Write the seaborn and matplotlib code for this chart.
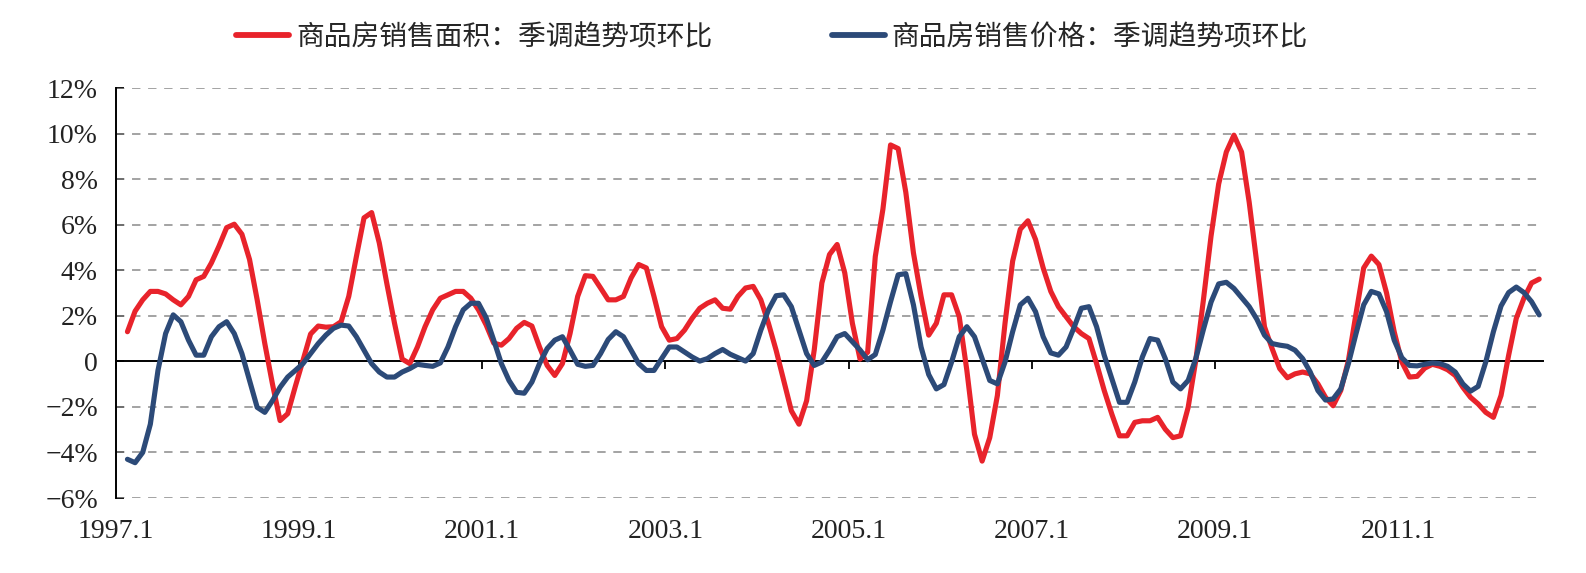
import numpy as np
import pandas as pd
import matplotlib
matplotlib.use("Agg")
import matplotlib.pyplot as plt
import seaborn as sns
from matplotlib.ticker import FuncFormatter

# ---- data (monthly, 1997.2 - 2012.7), % month-on-month ----
start_year, start_month = 1997, 2
area_mom = [
    1.30, 2.20, 2.70, 3.07, 3.07, 2.96, 2.70, 2.48, 2.85, 3.58,
    3.73, 4.32, 5.06, 5.87, 6.02, 5.58, 4.47, 2.70, 0.78, -0.99,
    -2.60, -2.30, -1.10, 0.04, 1.20, 1.55, 1.50, 1.52, 1.74, 2.85,
    4.60, 6.30, 6.53, 5.20, 3.40, 1.67, 0.10, -0.10, 0.63, 1.52,
    2.26, 2.77, 2.92, 3.07, 3.07, 2.77, 2.26, 1.60, 0.80, 0.71,
    1.00, 1.45, 1.71, 1.55, 0.63, -0.18, -0.62, -0.10, 1.22, 2.85,
    3.76, 3.73, 3.22, 2.70, 2.70, 2.85, 3.66, 4.25, 4.10, 2.85,
    1.52, 0.93, 1.00, 1.37, 1.89, 2.33, 2.55, 2.70, 2.33, 2.29,
    2.85, 3.22, 3.29, 2.70, 1.67, 0.49, -0.84, -2.17, -2.76, -1.73,
    0.50, 3.44, 4.69, 5.13, 3.88, 1.67, 0.10, 0.40, 4.60, 6.68,
    9.50, 9.34, 7.42, 4.76, 2.85, 1.15, 1.67, 2.92, 2.92, 1.96,
    -0.40, -3.20, -4.38, -3.35, -1.50, 1.67, 4.40, 5.80, 6.17, 5.35,
    4.10, 3.07, 2.40, 1.96, 1.52, 1.22, 1.00, -0.10, -1.28, -2.32,
    -3.27, -3.27, -2.68, -2.61, -2.61, -2.46, -2.98, -3.35, -3.27, -2.02,
    0.04, 2.70, 5.50, 7.79, 9.19, 9.93, 9.19, 6.98, 4.30, 1.52,
    0.56, -0.32, -0.72, -0.55, -0.47, -0.55, -0.99, -1.58, -1.95, -1.28,
    0.04, 2.10, 4.10, 4.62, 4.25, 3.00, 1.30, -0.03, -0.69, -0.66,
    -0.30, -0.13, -0.22, -0.37, -0.62, -1.14, -1.58, -1.87, -2.24, -2.46,
    -1.50, 0.27, 1.89, 2.77, 3.44, 3.61,
]
price_mom = [
    -4.30, -4.45, -4.00, -2.76, -0.40, 1.22, 2.04, 1.74, 0.93, 0.27,
    0.27, 1.08, 1.52, 1.74, 1.22, 0.34, -0.84, -2.02, -2.24, -1.73,
    -1.14, -0.69, -0.40, -0.10, 0.34, 0.78, 1.15, 1.45, 1.59, 1.55,
    1.08, 0.49, -0.10, -0.47, -0.69, -0.69, -0.47, -0.32, -0.13, -0.18,
    -0.22, -0.07, 0.63, 1.52, 2.26, 2.55, 2.55, 1.92, 0.93, -0.10,
    -0.84, -1.36, -1.40, -0.91, -0.10, 0.56, 0.93, 1.08, 0.49, -0.13,
    -0.22, -0.18, 0.34, 0.96, 1.30, 1.08, 0.49, -0.10, -0.40, -0.40,
    0.12, 0.63, 0.63, 0.41, 0.19, 0.01, 0.12, 0.34, 0.52, 0.31,
    0.16, 0.01, 0.34, 1.37, 2.26, 2.88, 2.92, 2.40, 1.37, 0.34,
    -0.18, -0.03, 0.49, 1.08, 1.22, 0.86, 0.50, 0.07, 0.30, 1.37,
    2.62, 3.80, 3.85, 2.48, 0.63, -0.58, -1.21, -1.02, -0.03, 1.08,
    1.52, 1.08, 0.12, -0.84, -0.99, -0.03, 1.30, 2.48, 2.77, 2.18,
    1.08, 0.37, 0.27, 0.63, 1.45, 2.33, 2.40, 1.52, 0.27, -0.77,
    -1.80, -1.80, -0.91, 0.19, 1.00, 0.93, 0.12, -0.91, -1.21, -0.84,
    0.12, 1.40, 2.60, 3.40, 3.47, 3.20, 2.80, 2.40, 1.85, 1.15,
    0.78, 0.71, 0.66, 0.49, 0.12, -0.47, -1.28, -1.70, -1.65, -1.21,
    -0.10, 1.22, 2.48, 3.07, 2.96, 2.18, 0.93, 0.16, -0.18, -0.20,
    -0.13, -0.07, -0.10, -0.22, -0.47, -0.99, -1.31, -1.10, -0.03, 1.30,
    2.43, 3.02, 3.26, 3.02, 2.62, 2.04,
]
series_names = ["商品房销售面积：季调趋势项环比", "商品房销售价格：季调趋势项环比"]
tick_labels = ["1997.1", "1999.1", "2001.1", "2003.1", "2005.1", "2007.1", "2009.1", "2011.1"]
y_ticks = [-6, -4, -2, 0, 2, 4, 6, 8, 10, 12]
colors = ["#E8232B", "#2C4A78"]

# month index (0 = 1997.1); category centres at idx + 0.5
offset = (start_year - 1997) * 12 + (start_month - 1)
idx = np.arange(len(area_mom)) + offset + 0.5
df = pd.DataFrame({
    "t": np.concatenate([idx, idx]),
    "v": area_mom + price_mom,
    "s": [series_names[0]] * len(area_mom) + [series_names[1]] * len(price_mom),
})

sns.set_theme(style="white")
plt.rcParams["font.family"] = ["Liberation Serif", "Noto Sans CJK SC"]
plt.rcParams["axes.unicode_minus"] = True

fig = plt.figure(figsize=(15.86, 5.73), dpi=100)
ax = fig.add_axes([116 / 1586, 1 - 498 / 573, (1543 - 116) / 1586, (498 - 88) / 573])

sns.lineplot(data=df, x="t", y="v", hue="s", palette=colors, hue_order=series_names,
             linewidth=3.7, ax=ax, legend=False, zorder=3, sort=False)

ax.set_xlim(0, 187)
ax.set_ylim(-6, 12)
ax.set_xlabel("")
ax.set_ylabel("")

# y axis
ax.set_yticks(y_ticks)
ax.yaxis.set_major_formatter(FuncFormatter(
    lambda v, p: "0" if v == 0 else ("\u2212%d%%" % abs(v) if v < 0 else "%d%%" % v)))
ax.tick_params(axis="y", direction="in", length=6, width=1.3, color="black",
               labelsize=20, pad=13, left=True, labelcolor="#222222")
for v in y_ticks:
    if v != 0:
        ax.axhline(v, color="#8a8a8a", lw=1.1, ls=(0, (5.5, 5)), zorder=1)

# x axis: tick marks on the zero line, labels on the bottom
ax.spines["bottom"].set_position(("data", 0))
ax.spines["bottom"].set_color("black")
ax.spines["bottom"].set_linewidth(1.4)
ax.spines["left"].set_color("black")
ax.spines["left"].set_linewidth(1.4)
ax.spines["top"].set_visible(False)
ax.spines["right"].set_visible(False)
tick_pos = [24 * k for k in range(len(tick_labels))]
ax.set_xticks(tick_pos)
ax.tick_params(axis="x", direction="out", length=6, width=1.3, color="black",
               labelbottom=False, bottom=True)

sec = ax.secondary_xaxis("bottom")
sec.set_xticks(tick_pos, tick_labels)
sec.tick_params(length=0, pad=15, labelsize=20, labelcolor="#222222")
sec.spines["bottom"].set_visible(False)

# legend
handles = [plt.Line2D([], [], color=c, lw=4.2) for c in colors]
fig.legend(handles, series_names, loc="center", bbox_to_anchor=(772 / 1586, 1 - 37 / 573),
           ncol=2, frameon=False, handlelength=1.9, handletextpad=0.25, columnspacing=4.3,
           prop={"family": ["Noto Sans CJK SC"], "size": 20})

fig.savefig("out.png", dpi=100)
